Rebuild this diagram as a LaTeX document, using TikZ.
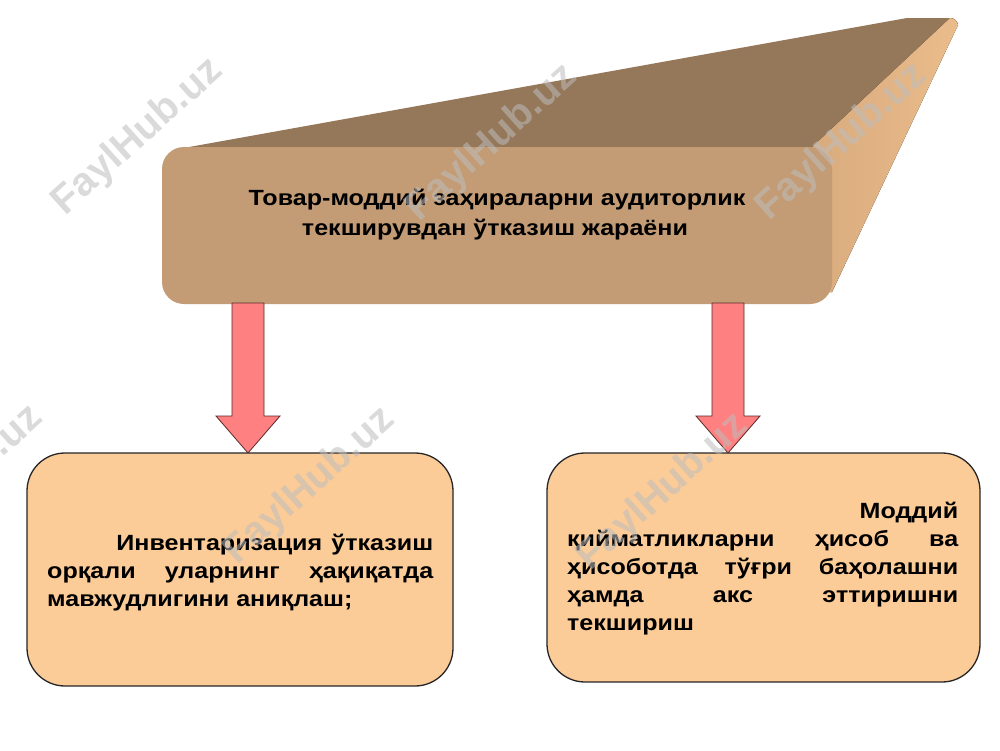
\documentclass[tikz,border=0pt]{standalone}
\usepackage{fontspec}
\setmainfont{Liberation Sans}
\definecolor{topc}{HTML}{957759}
\definecolor{frontc}{HTML}{C39C76}
\definecolor{sideL}{HTML}{D8AB7E}
\definecolor{sideR}{HTML}{EBBC8B}
\definecolor{arrowc}{HTML}{FF8080}
\definecolor{arrowline}{HTML}{5A2A2A}
\definecolor{peach}{HTML}{FBCB98}
\definecolor{wmc}{HTML}{BDBDBD}
\begin{document}
\begin{tikzpicture}[x=1pt,y=-1pt,
  topface/.style={fill=topc, draw=none},
  sideface/.style={left color=sideL, right color=sideR, draw=none},
  frontbox/.style={rectangle, rounded corners=22pt, fill=frontc, draw=none, inner sep=0pt},
  leafbox/.style={rectangle, rounded corners=38pt, fill=peach, draw=black!85, line width=1.3pt, inner sep=0pt},
  blockarrow/.style={fill=arrowc, draw=arrowline, line width=0.8pt, line join=miter},
  hdr/.style={font=\fontsize{22}{30}\selectfont\bfseries, inner sep=0pt},
  body/.style={font=\fontsize{22}{28}\selectfont\bfseries, inner sep=0pt, anchor=base west},
  wm/.style={font=\fontsize{40}{40}\selectfont\bfseries, text=wmc, opacity=0.55, inner sep=0pt, rotate=42}
]
\useasboundingbox (0,0) rectangle (1000,750);
\fill[white] (0,0) rectangle (1000,750);

% 3D header block
\fill[topface] (178,149) -- (907,18) -- (950,18) to[out=0,in=100] (958,25) -- (814,149) -- cycle;
\fill[sideface] (812,147) -- (950,18) to[out=0,in=100] (958,25) -- (832,292) -- (818,292) -- cycle;
\node[frontbox, minimum width=670pt, minimum height=157pt] (head) at (497,225.5) {};
\node[hdr, anchor=base] (h1) at (497,205) {\scalebox{1.14}[1]{Товар-моддий заҳираларни аудиторлик}};
\node[hdr, anchor=base] (h2) at (495,235) {\scalebox{1.14}[1]{текширувдан ўтказиш жараёни}};

% bottom boxes
\node[leafbox, minimum width=426pt, minimum height=233pt] (left) at (240,569.5) {};
\node[leafbox, minimum width=433pt, minimum height=229pt] (right) at (763.5,567.5) {};

% arrows
\draw[blockarrow] (232,303) -- (264,303) -- (264,416) -- (280,416) -- (248,453) -- (216,416) -- (232,416) -- cycle;
\draw[blockarrow] (712,303) -- (744,303) -- (744,416) -- (760,416) -- (728,453) -- (696,416) -- (712,416) -- cycle;

% left text
\node[body] (la) at (47,550) {\scalebox{1.14}[1]{\hbox to 338.6pt{\hfill Инвентаризация\hskip 8pt ўтказиш}}};
\node[body] (lb) at (47,578) {\scalebox{1.14}[1]{\hbox to 338.6pt{орқали\hfill уларнинг\hfill ҳақиқатда}}};
\node[body] (lc) at (47,606) {\scalebox{1.14}[1]{\hbox to 338.6pt{мавжудлигини аниқлаш;\hfill}}};

% right text
\node[body] (ra) at (567,518) {\scalebox{1.14}[1]{\hbox to 343pt{\hfill Моддий}}};
\node[body] (rb) at (567,546) {\scalebox{1.14}[1]{\hbox to 343pt{қийматликларни\hfill ҳисоб\hfill ва}}};
\node[body] (rc) at (567,574) {\scalebox{1.14}[1]{\hbox to 343pt{ҳисоботда\hfill тўғри\hfill баҳолашни}}};
\node[body] (rd) at (567,602) {\scalebox{1.14}[1]{\hbox to 343pt{ҳамда\hfill акс\hfill эттиришни}}};
\node[body] (re) at (567,630) {\scalebox{1.14}[1]{\hbox to 343pt{текшириш\hfill}}};

% watermarks
\node[wm] (w1) at (138,137) {FaylHub.uz};
\node[wm] (w2) at (492,143) {FaylHub.uz};
\node[wm] (w3) at (842,142) {FaylHub.uz};
\node[wm] (w4) at (-42,484) {FaylHub.uz};
\node[wm] (w5) at (310,486) {FaylHub.uz};
\node[wm] (w6) at (663,492) {FaylHub.uz};
\end{tikzpicture}
\end{document}
